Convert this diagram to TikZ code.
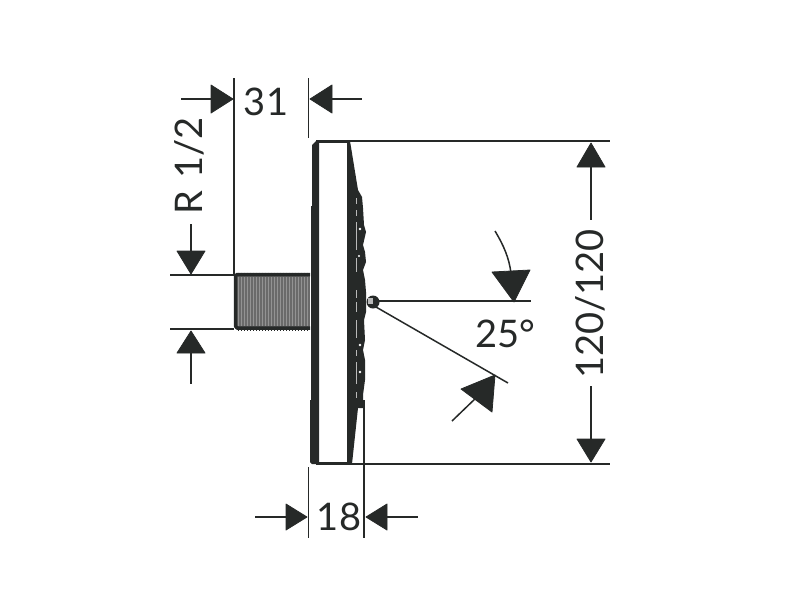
\documentclass[tikz,border=0pt]{standalone}
\usepackage{fontspec}
\setmainfont{Lato}
\definecolor{ink}{HTML}{262928}
\definecolor{thr}{HTML}{6A6A6A}
\tikzset{
  dimline/.style={draw=ink,line width=1.5pt},
  head/.style={fill=ink,draw=ink,line width=.8pt,line join=round},
  dimtext/.style={text=ink,font=\fontsize{38}{38}\selectfont,inner sep=0pt},
}
\begin{document}
\begin{tikzpicture}[x=1pt,y=-1pt]
\useasboundingbox (0,0) rectangle (800,600);
\fill[white] (0,0) rectangle (800,600);
% extension lines
\draw[dimline] (234,78) -- (234,275);
\draw[dimline] (308.5,78) -- (308.5,138);
\draw[dimline] (308.5,467) -- (308.5,538);
\draw[dimline] (364,400) -- (364,538);
\draw[dimline] (316,141) -- (610,141);
\draw[dimline] (316,464) -- (610,464);
\draw[dimline] (170,275) -- (234,275);
\draw[dimline] (170,329) -- (234,329);
% 31
\draw[dimline] (181,99) -- (212,99);
\fill[head] (211,85) -- (233,99) -- (211,113) -- cycle;
\draw[dimline] (331,99) -- (362,99);
\fill[head] (332,85) -- (310,99) -- (332,113) -- cycle;
\node[dimtext] (t31) at (266,102) {31};
% R 1/2
\draw[dimline] (191,224) -- (191,252);
\fill[head] (177,251) -- (191,274) -- (205,251) -- cycle;
\draw[dimline] (191,352) -- (191,384);
\fill[head] (177,353) -- (191,331) -- (205,353) -- cycle;
\node[dimtext,rotate=90] (tr) at (189,166) {R\,\,1/2};
% 120/120
\draw[dimline] (591,166) -- (591,220);
\draw[dimline] (591,386) -- (591,440);
\fill[head] (577,167) -- (591,143) -- (605,167) -- cycle;
\fill[head] (577,439) -- (591,462) -- (605,439) -- cycle;
\node[dimtext,rotate=90] (t120) at (590,304) {120/120};
% 18
\draw[dimline] (255,517) -- (286,517);
\fill[head] (286,504) -- (307,517) -- (286,530) -- cycle;
\draw[dimline] (387,517) -- (418,517);
\fill[head] (387,504) -- (366,517) -- (387,530) -- cycle;
\node[dimtext] (t18) at (339,517) {18};
% 25 deg
\draw[dimline] (370,301) -- (531,301);
\draw[dimline] (376,307) -- (508,383);
\draw[dimline] (495,231) .. controls (504,246) and (509,258) .. (511,273);
\fill[head] (492,272) -- (530,270) -- (514,302) -- cycle;
\draw[dimline] (452,421) -- (478,396);
\fill[head] (461,389) -- (495,375) -- (492,412) -- cycle;
\node[dimtext] (t25) at (505,334) {25°};
% thread
\fill[thr] (236,276) rectangle (310,327);
\foreach \x in {238,241,...,308}{
  \draw[ink,line width=1pt] (\x,272.5) -- (\x,273.5);
  \draw[ink,line width=1pt] (\x,329.5) -- (\x,330.5);
  \draw[gray!85,line width=.5pt] (\x,277) -- (\x,326);
}
\draw[ink,line width=3.5pt,line join=round] (310,274.5) -- (237,274.5) -- (235.5,276) -- (235.5,326) -- (237,328) -- (310,328);
% body
\fill[ink] (312,145) -- (316,141) -- (319,141) -- (319,464) -- (316,464) -- (312,464) -- (310,462) -- (310,400) -- (311,400) -- (311,206) -- (312,206) -- cycle;
\draw[ink,line width=2.5pt] (316,141.5) -- (349,141.5);
\draw[ink,line width=2.5pt] (316,463.5) -- (349,463.5);
% face
\fill[ink] (347,141) -- (350,141) -- (358,190) -- (362,197) -- (363,208)
  -- (364,225) -- (366,232) -- (363,245) -- (365,252) -- (366,262) -- (363,270)
  -- (365,280) -- (366,292) -- (366,312) -- (364,320) -- (365,340)
  -- (363,350) -- (365,360) -- (365,380) -- (363,395) -- (363,408) -- (358,408)
  -- (352,464) -- (347,464) -- cycle;
\foreach \a/\b in {198/204,210/216,222/250,258/272,290/298,302/312,320/338,350/356,362/384,392/398}{
  \draw[gray!55,line width=1pt] (356.5,\a) -- (356.5,\b);
}
\fill[white] (360,229) circle (1.3);
\fill[white] (359,256) circle (1.1);
\fill[white] (360,345) circle (1.3);
\fill[white] (360,372) circle (1.3);
% ball
\fill[ink] (373,302) circle (6.5);
\fill[gray!55] (368,298) rectangle (373,304);
\end{tikzpicture}
\end{document}
